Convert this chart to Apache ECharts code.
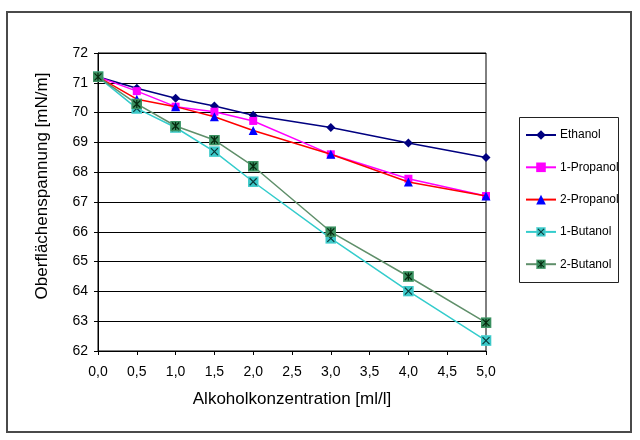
<!DOCTYPE html>
<html><head><meta charset="utf-8">
<script src="https://cdn.jsdelivr.net/npm/echarts@6/dist/echarts.min.js"></script>
<style>html,body{margin:0;padding:0;background:#fff}#c{width:640px;height:440px}</style>
</head><body><div id="c"></div>
<script>
var xValues = [0, 0.5, 1, 1.5, 2, 3, 4, 5];
var seriesNames = ['Ethanol', '1-Propanol', '2-Propanol', '1-Butanol', '2-Butanol'];
var ethanol   = [71.2, 70.82, 70.48, 70.22, 69.91, 69.5, 68.98, 68.49];
var propanol1 = [71.2, 70.72, 70.2, 70.03, 69.72, 68.6, 67.78, 67.2];
var propanol2 = [71.2, 70.45, 70.2, 69.86, 69.4, 68.6, 67.67, 67.2];
var butanol1  = [71.2, 70.14, 69.5, 68.69, 67.68, 65.78, 64.01, 62.35];
var butanol2  = [71.2, 70.29, 69.55, 69.08, 68.2, 66.0, 64.5, 62.95];
var yTicks = [62, 63, 64, 65, 66, 67, 68, 69, 70, 71, 72];
var xTitle = 'Alkoholkonzentration [ml/l]';
var yTitle = 'Oberflächenspannung [mN/m]';

function pairs(v){ return xValues.map(function(x,i){ return [x, v[i]]; }); }
function svgImg(s){ return 'image://data:image/svg+xml;charset=utf-8,' + encodeURIComponent(s); }
var b1Sym = svgImg('<svg xmlns="http://www.w3.org/2000/svg" width="22" height="22" viewBox="0 0 22 22"><rect x="0.5" y="0.5" width="21" height="21" fill="#3CC8C8" stroke="#5fd8d8"/><path d="M4 4L18 18M18 4L4 18" stroke="#0a3a3a" stroke-width="2.4"/></svg>');
var b2Sym = svgImg('<svg xmlns="http://www.w3.org/2000/svg" width="22" height="22" viewBox="0 0 22 22"><rect x="0.5" y="0.5" width="21" height="21" fill="#3a9060" stroke="#4fa070"/><path d="M4 4L18 18M18 4L4 18M11 3L11 19" stroke="#062a10" stroke-width="2.4"/></svg>');

var chart = echarts.init(document.getElementById('c'), null, {renderer:'canvas'});
var font = 'Liberation Sans, Arial, sans-serif';
chart.setOption({
  animation: false,
  textStyle: {fontFamily: font},
  graphic: [
    {type:'rect', shape:{x:7, y:12, width:624, height:420}, style:{fill:'none', stroke:'#4a4a4a', lineWidth:2}, z:-1},
    {type:'rect', shape:{x:519.5, y:117.5, width:99, height:165}, style:{fill:'#fff', stroke:'#222', lineWidth:1}, z:0},
    {type:'text', x:42, y:186, rotation: Math.PI/2,
     style:{text: yTitle, fill:'#000', font: '17px ' + font, textAlign:'center', textVerticalAlign:'middle'}}
  ],
  grid: {left: 98, right: 154, top: 53, bottom: 89, show: true, borderColor: '#000', borderWidth: 1},
  legend: {
    orient: 'vertical', left: 525, top: 129, itemWidth: 30, itemHeight: 12, itemGap: 20.3, padding: 0,
    textStyle: {fontSize: 12, color: '#000', fontFamily: font, padding: [0,0,0,-1]},
    data: seriesNames, z: 5
  },
  xAxis: {
    type: 'value', min: 0, max: 5, interval: 0.5,
    name: xTitle, nameLocation: 'middle', nameGap: 40,
    nameTextStyle: {fontSize: 17, color: '#000'},
    axisLine: {lineStyle: {color: '#000'}},
    axisTick: {show: true, length: 4, lineStyle: {color: '#000'}},
    axisLabel: {fontSize: 14, color: '#000', margin: 14, formatter: function(v){ return v.toFixed(1).replace('.', ','); }},
    splitLine: {show: false}
  },
  yAxis: {
    type: 'value', min: yTicks[0], max: yTicks[yTicks.length-1], interval: 1,
    axisLine: {show: true, lineStyle: {color: '#000'}},
    axisTick: {show: true, length: 4, lineStyle: {color: '#000'}},
    axisLabel: {fontSize: 14, color: '#000', margin: 10},
    splitLine: {show: true, lineStyle: {color: '#000', width: 1}}
  },
  series: [
    {name: seriesNames[0], type: 'line', data: pairs(ethanol), symbol: 'diamond', symbolSize: 9,
     itemStyle: {color: '#000080'}, lineStyle: {color: '#000080', width: 1.5}, z: 2},
    {name: seriesNames[1], type: 'line', data: pairs(propanol1), symbol: 'rect', symbolSize: 8,
     itemStyle: {color: '#FF00FF'}, lineStyle: {color: '#FF00FF', width: 1.5}, z: 3},
    {name: seriesNames[2], type: 'line', data: pairs(propanol2), symbol: 'triangle', symbolSize: 9,
     itemStyle: {color: '#0000FF'}, lineStyle: {color: '#FF0000', width: 1.5}, z: 4},
    {name: seriesNames[3], type: 'line', data: pairs(butanol1), symbol: b1Sym, symbolSize: 11,
     itemStyle: {color: '#33CCCC'}, lineStyle: {color: '#33CCCC', width: 1.5}, z: 5},
    {name: seriesNames[4], type: 'line', data: pairs(butanol2), symbol: b2Sym, symbolSize: 11,
     itemStyle: {color: '#3a9060'}, lineStyle: {color: '#5f8f6a', width: 1.5}, z: 6}
  ]
});
</script></body></html>
